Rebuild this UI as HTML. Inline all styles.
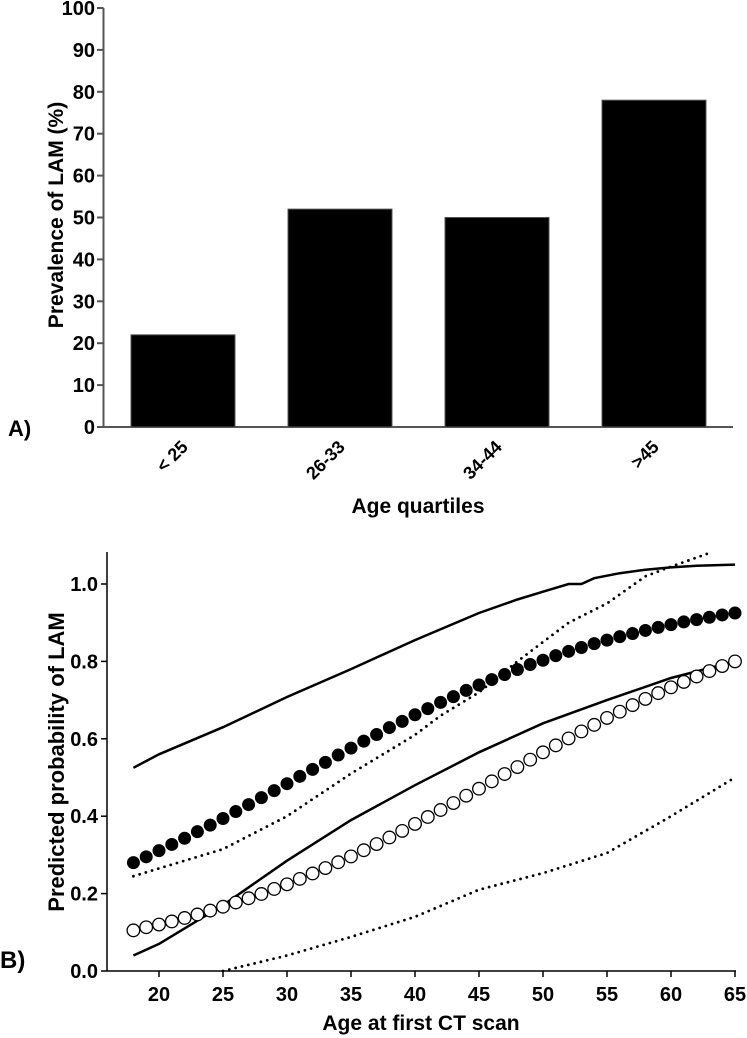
<!DOCTYPE html>
<html><head><meta charset="utf-8"><style>
html,body{margin:0;padding:0;background:#fff;}
svg{display:block;font-family:"Liberation Sans",Arial,sans-serif;font-weight:bold;}
</style></head><body>
<svg id="fig" width="747" height="1038" viewBox="0 0 747 1038">
<g id="pa"></g>
<g id="pb"></g>
</svg>
<script>
const barCategories = ["< 25", "26-33", "34-44", ">45"];
const barValues = [22, 52, 50, 78];
const barTicks = [0,10,20,30,40,50,60,70,80,90,100];

const ages = [18,19,20,21,22,23,24,25,26,27,28,29,30,31,32,33,34,35,36,37,38,39,40,41,42,43,44,45,46,47,48,49,50,51,52,53,54,55,56,57,58,59,60,61,62,63,64,65];
const filledValues = [0.280,0.295,0.311,0.327,0.343,0.360,0.377,0.394,0.412,0.430,0.448,0.466,0.484,0.503,0.521,0.539,0.558,0.576,0.594,0.611,0.629,0.645,0.662,0.678,0.694,0.709,0.725,0.739,0.753,0.766,0.779,0.792,0.803,0.815,0.826,0.836,0.846,0.855,0.864,0.872,0.880,0.888,0.895,0.902,0.908,0.914,0.920,0.925];
const openValues = [0.105,0.113,0.120,0.128,0.137,0.146,0.156,0.166,0.177,0.188,0.199,0.212,0.224,0.238,0.252,0.266,0.281,0.296,0.312,0.328,0.345,0.362,0.380,0.398,0.416,0.434,0.453,0.471,0.490,0.509,0.527,0.546,0.565,0.583,0.601,0.619,0.636,0.654,0.670,0.687,0.703,0.718,0.733,0.747,0.761,0.775,0.788,0.800];
const filledUpperAges = [18,20,25,30,35,40,45,48,50,52,53,54,56,58,60,62,65];
const filledUpper = [0.525,0.56,0.63,0.708,0.78,0.855,0.925,0.96,0.98,1.0,1.0,1.015,1.028,1.037,1.043,1.047,1.05];
const filledLowerAges = [18,20,25,30,35,40,42,45,48,50,52,55,58,60,63];
const filledLower = [0.245,0.265,0.315,0.4,0.51,0.61,0.66,0.72,0.8,0.85,0.9,0.95,1.02,1.045,1.08];
const openUpperAges = [18,20,25,30,35,40,45,50,55,60,65];
const openUpper = [0.04,0.07,0.17,0.285,0.39,0.48,0.565,0.64,0.70,0.757,0.80];
const openLowerAges = [25,30,35,40,45,50,55,60,65];
const openLower = [0.0,0.04,0.088,0.14,0.21,0.253,0.305,0.40,0.50];
const xTicks = [20,25,30,35,40,45,50,55,60,65];
const yTicks = [0.0,0.2,0.4,0.6,0.8,1.0];

const NS="http://www.w3.org/2000/svg";
function mk(parent,tag,attrs,text){const e=document.createElementNS(NS,tag);for(const k in attrs)e.setAttribute(k,attrs[k]);if(text!==undefined)e.textContent=text;parent.appendChild(e);return e;}

// Panel A
const pa=document.getElementById('pa');
const ayA=v=>427-v*4.19;
const bxA=i=>131+i*157;
let e;
e=mk(pa,'line',{x1:103.5,y1:8,x2:103.5,y2:427,stroke:'#555','stroke-width':2});


e=mk(pa,'line',{x1:103.5,y1:427,x2:733,y2:427,stroke:'#555','stroke-width':2});


barTicks.forEach(t=>{
  e=mk(pa,'line',{x1:97,y1:ayA(t),x2:103.5,y2:ayA(t),stroke:'#555','stroke-width':2});
  
  
  e=mk(pa,'text',{x:95,y:ayA(t)+7,'text-anchor':'end','font-size':20},String(t));
  
  
});
barValues.forEach((v,i)=>{
  e=mk(pa,'rect',{x:bxA(i),y:ayA(v),width:104,height:427-ayA(v),fill:'#000',stroke:'#555','stroke-width':1});
  
  
  const cx=bxA(i)+58, cy=448;
  e=mk(pa,'text',{x:cx,y:cy,'text-anchor':'end','font-size':18,transform:`rotate(-45 ${cx} ${cy})`},barCategories[i]);
  
  
});
e=mk(pa,'text',{x:418,y:513,'text-anchor':'middle','font-size':21},'Age quartiles');


e=mk(pa,'text',{x:0,y:0,'text-anchor':'middle','font-size':21,transform:'translate(63 215) rotate(-90)'},'Prevalence of  LAM (%)');


e=mk(pa,'text',{x:8,y:436,'font-size':22},'A)');



// Panel B
const pb=document.getElementById('pb');
const sx=a=>159+(a-20)*12.8;
const sy=v=>971-v*387;
e=mk(pb,'line',{x1:107,y1:552,x2:107,y2:971,stroke:'#000','stroke-width':1.5});


e=mk(pb,'line',{x1:107,y1:971,x2:736,y2:971,stroke:'#000','stroke-width':1.5});


yTicks.forEach(t=>{
  e=mk(pb,'line',{x1:101,y1:sy(t),x2:107,y2:sy(t),stroke:'#000','stroke-width':1.5});
  
  
  e=mk(pb,'text',{x:98,y:sy(t)+7,'text-anchor':'end','font-size':20},t.toFixed(1));
  
  
});
xTicks.forEach(t=>{
  e=mk(pb,'line',{x1:sx(t),y1:971,x2:sx(t),y2:977,stroke:'#000','stroke-width':1.5});
  
  
  e=mk(pb,'text',{x:sx(t),y:1001,'text-anchor':'middle','font-size':20},String(t));
  
  
});
function path(xs,ys){return xs.map((a,i)=>(i?'L':'M')+sx(a).toFixed(1)+','+sy(ys[i]).toFixed(1)).join(' ');}
e=mk(pb,'path',{d:path(filledUpperAges,filledUpper),fill:'none',stroke:'#000','stroke-width':2.5});


e=mk(pb,'path',{d:path(filledLowerAges,filledLower),fill:'none',stroke:'#000','stroke-width':2.8,'stroke-dasharray':'0 6.5','stroke-linecap':'round'});


e=mk(pb,'path',{d:path(openUpperAges,openUpper),fill:'none',stroke:'#000','stroke-width':2.5});


e=mk(pb,'path',{d:path(openLowerAges,openLower),fill:'none',stroke:'#000','stroke-width':2.8,'stroke-dasharray':'0 6.5','stroke-linecap':'round'});


ages.forEach((a,i)=>{
  e=mk(pb,'circle',{cx:sx(a),cy:sy(openValues[i]),r:6.3,fill:'#fff',stroke:'#000','stroke-width':1.3});
  
  
});
ages.forEach((a,i)=>{
  e=mk(pb,'circle',{cx:sx(a),cy:sy(filledValues[i]),r:6.5,fill:'#000'});
  
  
});
e=mk(pb,'text',{x:421,y:1030,'text-anchor':'middle','font-size':21},'Age at first CT scan');


e=mk(pb,'text',{x:0,y:0,'text-anchor':'middle','font-size':22,transform:'translate(64 762) rotate(-90)'},'Predicted probability of LAM');


e=mk(pb,'text',{x:0,y:968,'font-size':24},'B)');


</script>
</body></html>
